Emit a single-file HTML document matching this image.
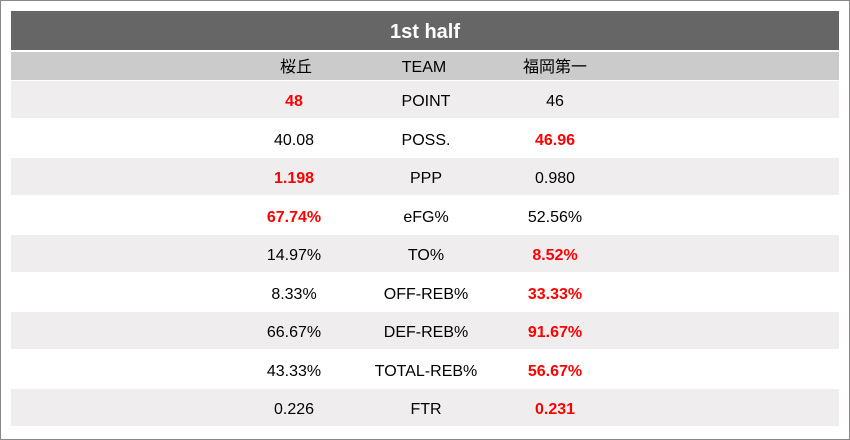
<!DOCTYPE html>
<html><head><meta charset="utf-8"><style>
body{margin:0;width:850px;height:440px;background:#fff;position:relative;overflow:hidden;font-family:"Liberation Sans","Noto Sans CJK JP",sans-serif;}
.frame{position:absolute;left:0;top:0;width:848px;height:438px;border:1px solid #888;}
.title{position:absolute;left:11px;top:11px;width:828px;height:39px;background:#666;color:#fff;font-weight:bold;font-size:20px;text-align:center;line-height:42px;}
.hdr{position:absolute;left:11px;top:52px;width:828px;height:28px;background:#cbcbcb;font-size:16px;}
.row{position:absolute;left:11px;width:828px;height:37px;font-size:16px;}
.c{position:absolute;top:0;width:160px;margin-left:-80px;text-align:center;}
.hdr .c{line-height:31px;}
.row .c{line-height:42px;}
.r{color:#f00;font-weight:bold;}
.g{background:#efedee;}
</style></head><body>
<div class="frame"></div>
<div class="title">1st half</div>
<div class="hdr"><div class="c" style="left:285px">桜丘</div><div class="c" style="left:413px">TEAM</div><div class="c" style="left:544px">福岡第一</div></div>
<div class="row g" style="top:81px"><div class="c r" style="left:283px">48</div><div class="c" style="left:415px">POINT</div><div class="c" style="left:544px">46</div></div>
<div class="row" style="top:119.5px"><div class="c" style="left:283px">40.08</div><div class="c" style="left:415px">POSS.</div><div class="c r" style="left:544px">46.96</div></div>
<div class="row g" style="top:158px"><div class="c r" style="left:283px">1.198</div><div class="c" style="left:415px">PPP</div><div class="c" style="left:544px">0.980</div></div>
<div class="row" style="top:196.5px"><div class="c r" style="left:283px">67.74%</div><div class="c" style="left:415px">eFG%</div><div class="c" style="left:544px">52.56%</div></div>
<div class="row g" style="top:235px"><div class="c" style="left:283px">14.97%</div><div class="c" style="left:415px">TO%</div><div class="c r" style="left:544px">8.52%</div></div>
<div class="row" style="top:273.5px"><div class="c" style="left:283px">8.33%</div><div class="c" style="left:415px">OFF-REB%</div><div class="c r" style="left:544px">33.33%</div></div>
<div class="row g" style="top:312px"><div class="c" style="left:283px">66.67%</div><div class="c" style="left:415px">DEF-REB%</div><div class="c r" style="left:544px">91.67%</div></div>
<div class="row" style="top:350.5px"><div class="c" style="left:283px">43.33%</div><div class="c" style="left:415px">TOTAL-REB%</div><div class="c r" style="left:544px">56.67%</div></div>
<div class="row g" style="top:389px"><div class="c" style="left:283px">0.226</div><div class="c" style="left:415px">FTR</div><div class="c r" style="left:544px">0.231</div></div>
</body></html>
